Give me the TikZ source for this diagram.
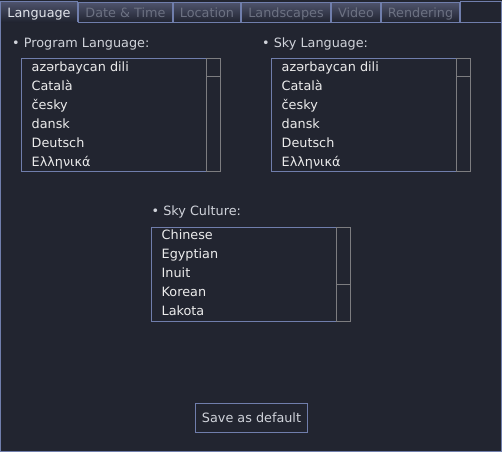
\documentclass[tikz,border=0pt]{standalone}
\usepackage{fontspec}
\setmainfont{DejaVu Sans}
\definecolor{bgc}{RGB}{34,37,48}
\definecolor{framec}{RGB}{112,126,172}
\definecolor{sbarc}{RGB}{125,125,128}
\definecolor{itemc}{RGB}{236,236,236}
\definecolor{lblc}{RGB}{208,211,218}
\definecolor{tabtop}{RGB}{78,83,108}
\definecolor{tabbot}{RGB}{32,35,47}
\definecolor{tabontxt}{RGB}{225,228,235}
\definecolor{tabofftxt}{RGB}{108,113,130}
\begin{document}
\begin{tikzpicture}[x=1pt,y=-1pt,
  txt/.style={font=\fontsize{12.8}{15}\selectfont, inner sep=0pt, anchor=base west},
  item/.style={txt, text=itemc},
  lbl/.style={txt, text=lblc},
  tabtxt/.style={font=\fontsize{12.8}{15}\selectfont, inner sep=0pt, anchor=base},
  tabon/.style={tabtxt, text=tabontxt},
  taboff/.style={tabtxt, text=tabofftxt},
  frame/.style={draw=framec, line width=1pt},
  sbar/.style={draw=sbarc, line width=1pt},
  tabfill/.style={top color=tabtop, bottom color=tabbot}]
\useasboundingbox (0,0) rectangle (502,452);
\fill[bgc] (0,0) rectangle (502,452);

% tabs
\shade[tabfill] (0.5,1.5) rectangle (77.5,22.5);
\draw[frame] (0.5,22.5) -- (0.5,1.5) -- (77.5,1.5) -- (77.5,22.5);
\node[tabon] (tlang) at (39,18) {Language};

\shade[tabfill] (78.5,2.5) rectangle (172.5,22.5);
\draw[frame] (78.5,2.5) rectangle (172.5,22.5);
\node[taboff] (tdate) at (125.5,18) {Date \& Time};

\shade[tabfill] (173.5,2.5) rectangle (240.5,22.5);
\draw[frame] (173.5,2.5) rectangle (240.5,22.5);
\node[taboff] (tloc) at (207,18) {Location};

\shade[tabfill] (241.5,2.5) rectangle (330.5,22.5);
\draw[frame] (241.5,2.5) rectangle (330.5,22.5);
\node[taboff] (tland) at (286,18) {Landscapes};

\shade[tabfill] (331.5,2.5) rectangle (380.5,22.5);
\draw[frame] (331.5,2.5) rectangle (380.5,22.5);
\node[taboff] (tvid) at (356,18) {Video};

\shade[tabfill] (381.5,2.5) rectangle (459.5,22.5);
\draw[frame] (381.5,2.5) rectangle (459.5,22.5);
\node[taboff] (trend) at (420.5,18) {Rendering};

\draw[frame] (460.5,1.5) rectangle (501.5,22.5);

% panel frame
\draw[frame] (77.5,22.5) -- (501.5,22.5) -- (501.5,451.5) -- (0.5,451.5) -- (0.5,22.5);

% Program language
\node[lbl] (lprog) at (12,47) {• Program Language:};
\draw[frame] (21.5,58.5) rectangle (220.5,171.5);
\draw[sbar] (206.5,58.5) rectangle (220.5,171.5);
\draw[sbar] (206.5,58.5) rectangle (220.5,76.5);
\node[item] (p1) at (31.5,71) {azərbaycan dili};
\node[item] (p2) at (31.5,90) {Català};
\node[item] (p3) at (31.5,109) {česky};
\node[item] (p4) at (31.5,128) {dansk};
\node[item] (p5) at (31.5,147) {Deutsch};
\node[item] (p6) at (31.5,166) {Ελληνικά};

% Sky language
\node[lbl] (lsky) at (262,47) {• Sky Language:};
\draw[frame] (271.5,58.5) rectangle (470.5,171.5);
\draw[sbar] (456.5,58.5) rectangle (470.5,171.5);
\draw[sbar] (456.5,58.5) rectangle (470.5,76.5);
\node[item] (s1) at (281.5,71) {azərbaycan dili};
\node[item] (s2) at (281.5,90) {Català};
\node[item] (s3) at (281.5,109) {česky};
\node[item] (s4) at (281.5,128) {dansk};
\node[item] (s5) at (281.5,147) {Deutsch};
\node[item] (s6) at (281.5,166) {Ελληνικά};

% Sky culture
\node[lbl] (lcult) at (151.5,215) {• Sky Culture:};
\draw[frame] (151.5,227.5) rectangle (350.5,321.5);
\draw[sbar] (336.5,227.5) rectangle (350.5,321.5);
\draw[sbar] (336.5,227.5) rectangle (350.5,284.5);
\node[item] (c1) at (161.5,239.5) {Chinese};
\node[item] (c2) at (161.5,258.5) {Egyptian};
\node[item] (c3) at (161.5,277.5) {Inuit};
\node[item] (c4) at (161.5,296.5) {Korean};
\node[item] (c5) at (161.5,315.5) {Lakota};

% button
\draw[frame] (195.5,403.5) rectangle (307.5,432.5);
\node[tabtxt, text=lblc] (save) at (251.5,422) {Save as default};
\end{tikzpicture}
\end{document}
